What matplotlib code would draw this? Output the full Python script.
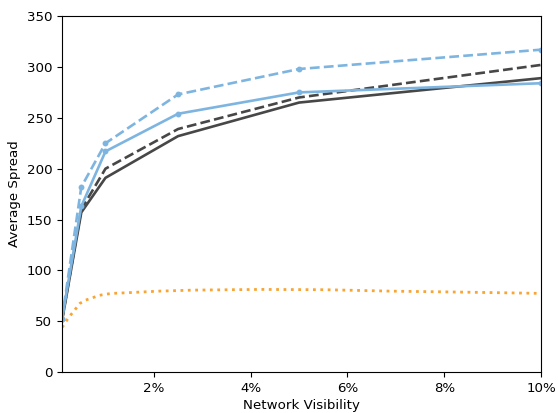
import numpy as np
import matplotlib
matplotlib.use('Agg')
import matplotlib.pyplot as plt
from matplotlib.ticker import FuncFormatter

plt.rcParams['font.size'] = 9.6

# DATA (network visibility as a fraction, spread values)
vis = [0.001, 0.005, 0.01, 0.025, 0.05, 0.1]
blue_dashed = [52, 182, 225, 273, 298, 317]
blue_solid = [52, 163, 217, 254, 275, 284]
dark_dashed = [51, 160, 200, 239, 270, 302]
dark_solid = [50, 157, 191, 232, 265, 289]

orange_vis = [0.001, 0.0012, 0.002, 0.0029, 0.0038, 0.0047, 0.0059, 0.0073,
              0.0086, 0.0102, 0.0115, 0.0143, 0.021, 0.028, 0.042, 0.0555,
              0.069, 0.083, 0.1]
orange_vals = [44, 45, 51, 56.7, 62, 67.5, 70.8, 73, 75.4, 76.7, 77.4, 78,
               79.6, 80.6, 81.3, 81, 79.6, 78.7, 77.4]

blue = '#7EB5E0'
dark = '#474747'
orange = '#F8A534'

fig, ax = plt.subplots(figsize=(5.58, 4.13), dpi=100)
fig.subplots_adjust(left=0.111, right=0.9695, top=0.961, bottom=0.099)

ax.plot(vis, dark_solid, '-', color=dark, lw=1.9)
ax.plot(vis, dark_dashed, '--', color=dark, lw=1.9)
ax.plot(vis, blue_solid, '-', color=blue, lw=1.9, marker='o', ms=3.2)
ax.plot(vis, blue_dashed, '--', color=blue, lw=1.9, marker='o', ms=3.2)
ax.plot(orange_vis, orange_vals, ':', color=orange, lw=2)

ax.set_xlim(0.001, 0.1)
ax.set_ylim(0, 350)
ax.set_xticks([0.02, 0.04, 0.06, 0.08, 0.1])
ax.xaxis.set_major_formatter(FuncFormatter(lambda v, p: f'{v*100:.0f}%'))
ax.set_xlabel('Network Visibility', labelpad=3)
ax.set_ylabel('Average Spread')

fig.savefig('out.png', dpi=100)
